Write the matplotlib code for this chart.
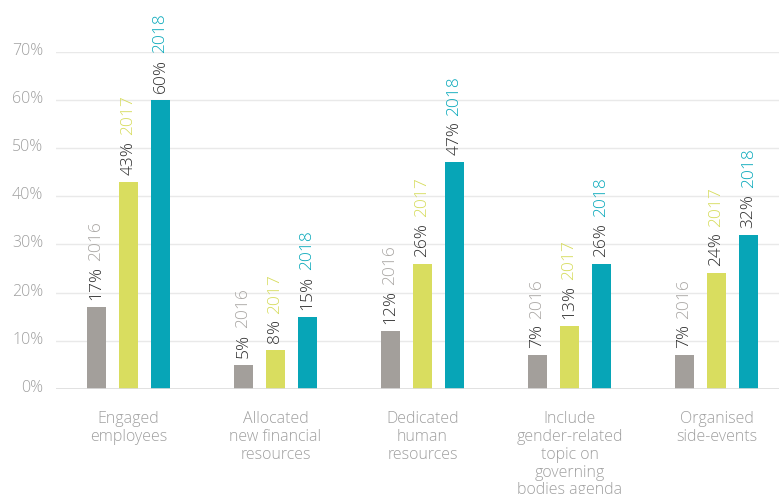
import matplotlib
matplotlib.use("Agg")
import matplotlib.pyplot as plt
import matplotlib.transforms as mtransforms
import numpy as np

plt.rcParams['font.family'] = ['Open Sans', 'DejaVu Sans']

categories = ["Engaged\nemployees", "Allocated\nnew financial\nresources",
              "Dedicated\nhuman\nresources",
              "Include\ngender-related\ntopic on\ngoverning\nbodies agenda",
              "Organised\nside-events"]
years = ["2016", "2017", "2018"]
values_2016 = [17, 5, 12, 7, 7]
values_2017 = [43, 8, 26, 13, 24]
values_2018 = [60, 15, 47, 26, 32]
yticks = [0, 10, 20, 30, 40, 50, 60, 70]

series = [values_2016, values_2017, values_2018]
bar_colors = ["#a39f9b", "#d9dd5f", "#07a5b7"]
year_colors = ["#a9a6a3", "#d6dc5c", "#07a8ba"]

fig = plt.figure(figsize=(7.79, 4.94), dpi=100)
ax = fig.add_axes([56/779, 1-389/494, 1-56/779, (389-51.5)/494])

x = np.arange(len(categories))
w = 0.13
off = 0.218
for i, (vals, col) in enumerate(zip(series, bar_colors)):
    pos = x + (i-1)*off
    ax.bar(pos, vals, width=w, color=col, zorder=3)
    for p, v in zip(pos, vals):
        t = ax.annotate(f"{v}%", xy=(p, v), xytext=(0, 5), textcoords="offset points",
                        rotation=90, ha="center", va="bottom", fontsize=12.5,
                        fontweight="light", color="#2e2e2e", annotation_clip=False)
        ax.annotate(years[i], xy=(0.5, 1), xycoords=t, xytext=(0, 4),
                    textcoords="offset points", rotation=90, ha="center",
                    va="bottom", fontsize=12.5, fontweight="light",
                    color=year_colors[i], annotation_clip=False)

ax.set_xlim(-0.493, 4.425)
ax.set_ylim(0, 70)
ax.set_yticks(yticks)
ax.set_yticklabels([f"{t}%" for t in yticks])
ax.set_xticks(x)
ax.set_xticklabels(categories, linespacing=1.15)
ax.tick_params(axis="y", length=0, pad=9, labelsize=11.5, labelcolor="#a0a0a0")
ax.tick_params(axis="x", length=0, pad=16, labelsize=11.5, labelcolor="#a0a0a0")
shift = mtransforms.ScaledTranslation(0, 3/100, fig.dpi_scale_trans)
for lab in ax.get_yticklabels():
    lab.set_fontweight("light")
    lab.set_transform(lab.get_transform() + shift)
for lab in ax.get_xticklabels():
    lab.set_verticalalignment("top")
    lab.set_fontweight("light")
for s in ax.spines.values():
    s.set_visible(False)
ax.grid(axis="y", color="#e9e9e9", linewidth=1, zorder=0)
ax.axhline(0, color="#dcdcdc", linewidth=1.2, zorder=4)

fig.savefig("out.png", dpi=100)
